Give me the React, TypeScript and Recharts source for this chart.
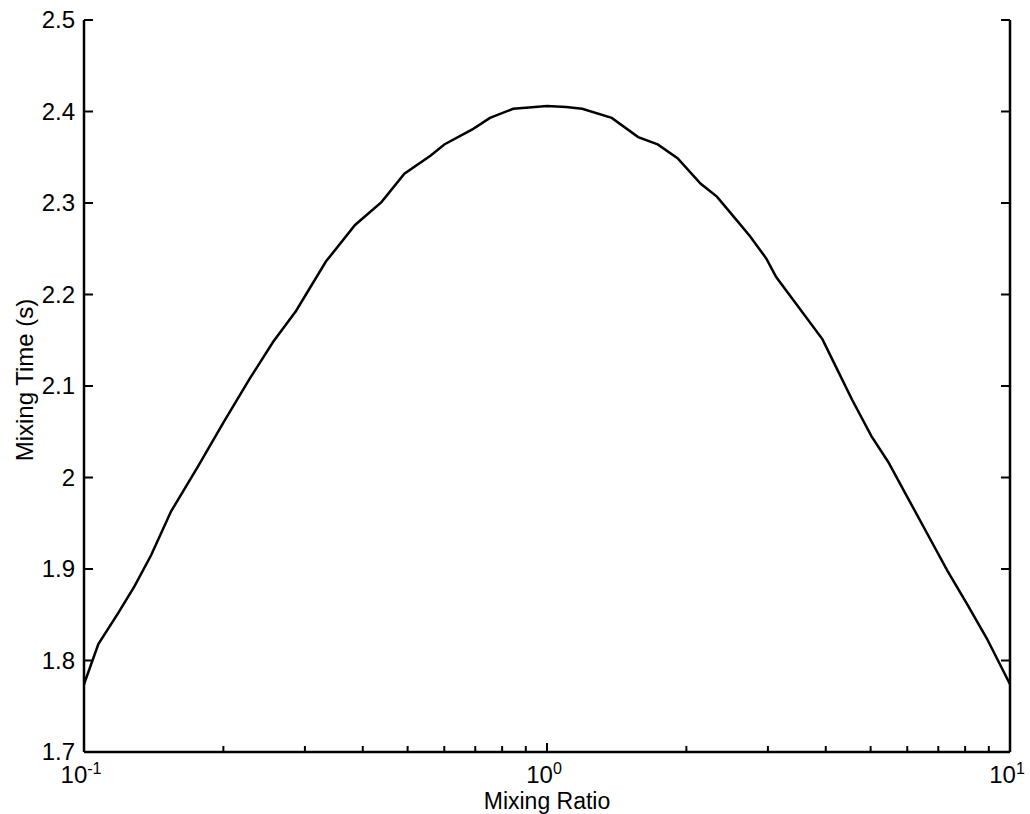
import { LineChart, Line, XAxis, YAxis } from 'recharts';

// mixing ratio (log axis) and mixing time
const mixingRatio = [
  0.1, 0.1074, 0.1186, 0.1285, 0.1396, 0.1542, 0.1758, 0.2, 0.228, 0.256, 0.287, 0.333, 0.385,
  0.439, 0.492, 0.561, 0.6, 0.693, 0.753, 0.845, 0.9, 1, 1.1, 1.191, 1.38, 1.574, 1.734, 1.914,
  2.148, 2.328, 2.57, 2.742, 2.979, 3.126, 3.451, 3.936, 4.198, 4.56, 5.023, 5.458, 6.026, 6.637,
  7.328, 8.091, 8.913, 10,
];
const mixingTime = [
  1.774, 1.818, 1.852, 1.881, 1.915, 1.963, 2.011, 2.06, 2.108, 2.148, 2.182, 2.236, 2.276,
  2.301, 2.332, 2.352, 2.364, 2.381, 2.393, 2.403, 2.404, 2.406, 2.405, 2.403, 2.393, 2.372,
  2.364, 2.349, 2.321, 2.307, 2.281, 2.264, 2.239, 2.219, 2.19, 2.151, 2.122, 2.085, 2.045,
  2.017, 1.977, 1.938, 1.898, 1.861, 1.824, 1.774,
];

const xTicks = [
  0.1, 0.2, 0.3, 0.4, 0.5, 0.6, 0.7, 0.8, 0.9, 1, 2, 3, 4, 5, 6, 7, 8, 9, 10,
];
const xMajor = [0.1, 1, 10];
const xMajorExp = ['-1', '0', '1'];
const yTicks = [1.7, 1.8, 1.9, 2.0, 2.1, 2.2, 2.3, 2.4, 2.5];

const data = mixingRatio.map((r, i) => ({ ratio: r, time: mixingTime[i] }));

const FONT = '"Liberation Sans", Arial, Helvetica, sans-serif';

function BottomTick({ x, y, payload }: any) {
  const idx = xMajor.indexOf(payload.value);
  const len = idx >= 0 ? 9 : 6;
  return (
    <g>
      <line x1={x} y1={y} x2={x} y2={y - len} stroke="#000" strokeWidth={2} />
      {idx >= 0 && (
        <text x={x - 3} y={y + 31} textAnchor="middle" fontSize={24} fontFamily={FONT} fill="#000">
          10
          <tspan dy={-9} fontSize={16}>{xMajorExp[idx]}</tspan>
        </text>
      )}
    </g>
  );
}

function TopTick({ x, y, payload }: any) {
  const len = xMajor.includes(payload.value) ? 9 : 6;
  return <line x1={x} y1={y} x2={x} y2={y + len} stroke="#000" strokeWidth={2} />;
}

function LeftTick({ x, y, payload }: any) {
  const label = String(Number(payload.value.toFixed(1)));
  return (
    <g>
      <line x1={x} y1={y} x2={x + 9} y2={y} stroke="#000" strokeWidth={2} />
      <text x={x - 9} y={y + 8} textAnchor="end" fontSize={24} fontFamily={FONT} fill="#000">
        {label}
      </text>
    </g>
  );
}

function RightTick({ x, y }: any) {
  return <line x1={x} y1={y} x2={x - 9} y2={y} stroke="#000" strokeWidth={2} />;
}

export default function App() {
  return (
    <div style={{ position: 'absolute', left: 0, top: 0, width: 1030, height: 814, background: '#fff' }}>
      <LineChart width={1030} height={814} data={data} margin={{ top: 20, right: 0, bottom: 0, left: 0 }}>
        <XAxis
          dataKey="ratio"
          type="number"
          scale="log"
          domain={[0.1, 10]}
          ticks={xTicks}
          interval={0}
          allowDataOverflow
          height={62}
          tickSize={0}
          tickMargin={0}
          tickLine={false}
          tick={BottomTick}
          axisLine={{ stroke: '#000', strokeWidth: 2.5 }}
          label={{
            value: 'Mixing Ratio',
            position: 'insideBottom',
            offset: 5,
            fontSize: 23,
            fontFamily: FONT,
            fill: '#000',
          }}
        />
        <XAxis
          xAxisId="top"
          orientation="top"
          dataKey="ratio"
          type="number"
          scale="log"
          domain={[0.1, 10]}
          ticks={xTicks}
          interval={0}
          allowDataOverflow
          height={0}
          tickSize={0}
          tickMargin={0}
          tickLine={false}
          tick={TopTick}
          axisLine={{ stroke: '#000', strokeWidth: 2.5 }}
        />
        <YAxis
          type="number"
          domain={[1.7, 2.5]}
          ticks={yTicks}
          interval={0}
          allowDataOverflow
          width={84}
          tickSize={0}
          tickMargin={0}
          tickLine={false}
          tick={LeftTick}
          axisLine={{ stroke: '#000', strokeWidth: 2.5 }}
          label={{
            value: 'Mixing Time (s)',
            content: ({ viewBox }: any) => {
              const cx = viewBox.x + 33;
              const cy = viewBox.y + viewBox.height / 2 - 6;
              return (
                <text
                  x={cx}
                  y={cy}
                  transform={`rotate(-90 ${cx} ${cy})`}
                  textAnchor="middle"
                  fontSize={24}
                  fontFamily={FONT}
                  fill="#000"
                >
                  Mixing Time (s)
                </text>
              );
            },
          }}
        />
        <YAxis
          yAxisId="right"
          orientation="right"
          type="number"
          domain={[1.7, 2.5]}
          ticks={yTicks}
          interval={0}
          allowDataOverflow
          width={20}
          tickSize={0}
          tickMargin={0}
          tickLine={false}
          tick={RightTick}
          axisLine={{ stroke: '#000', strokeWidth: 2.5 }}
        />
        <Line
          type="linear"
          dataKey="time"
          stroke="#000"
          strokeWidth={2.5}
          dot={false}
          isAnimationActive={false}
        />
      </LineChart>
    </div>
  );
}
